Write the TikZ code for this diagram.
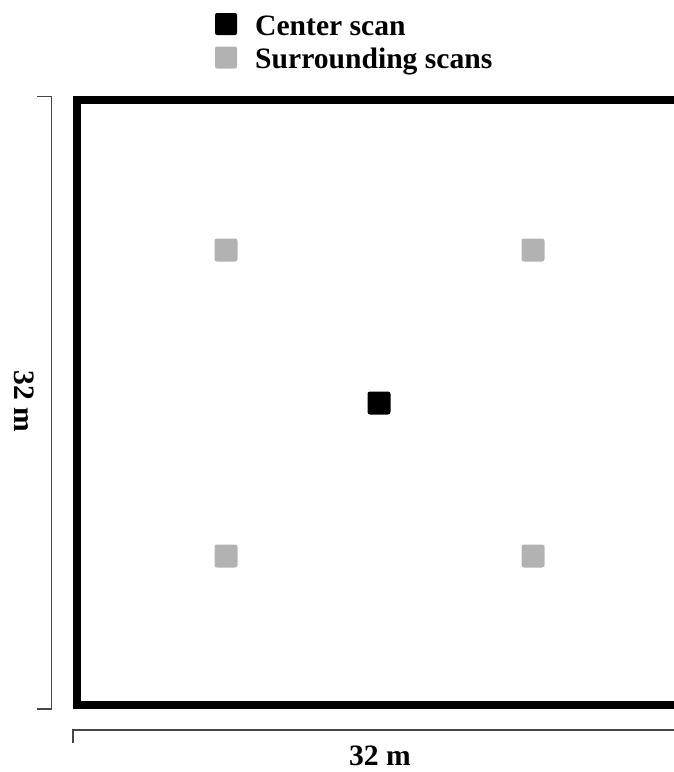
\documentclass[tikz,border=0pt]{standalone}
\usepackage{fontspec}
\setmainfont{Liberation Serif}
\definecolor{scangray}{RGB}{178,178,178}
\definecolor{dimgray}{RGB}{70,70,70}
\begin{document}
\begin{tikzpicture}[x=1pt,y=-1pt,
  scan/.style={rectangle,minimum size=23pt,inner sep=0pt,rounded corners=2.5pt},
  centerscan/.style={scan,fill=black},
  sidescan/.style={scan,fill=scangray},
  legbox/.style={rectangle,minimum size=22pt,inner sep=0pt,rounded corners=2pt},
  lbl/.style={inner sep=0pt,font=\fontsize{29.6}{32}\selectfont\bfseries},
  dimline/.style={draw=dimgray,line width=1.2pt},
  area/.style={draw=black,line width=8pt}]
\useasboundingbox (0,0) rectangle (673,772);
% legend
\node[legbox,fill=black] (lc) at (226,24) {};
\node[legbox,fill=scangray] (ls) at (226,57.5) {};
\node[lbl,anchor=base west] (tc) at (255,35) {Center scan};
\node[lbl,anchor=base west] (ts) at (255,68) {Surrounding scans};
% area
\coordinate (tl) at (76.5,100);
\coordinate (bl) at (76.5,704.5);
\coordinate (tr) at (690,100);
\coordinate (br) at (690,704.5);
\draw[area] (tr) -- (tl) -- (bl) -- (br);
% scans
\node[centerscan] (c) at (379,403) {};
\node[sidescan] (s1) at (226,250) {};
\node[sidescan] (s2) at (533,250) {};
\node[sidescan] (s3) at (226,556) {};
\node[sidescan] (s4) at (533,556) {};
% left dimension
\coordinate (v1) at (37,96.5);
\coordinate (v2) at (51.7,96.5);
\coordinate (v3) at (51.7,709);
\coordinate (v4) at (37,709);
\draw[dimline] (v1) -- (v2) -- (v3) -- (v4);
\node[lbl,rotate=-90,anchor=base] (lv) at (15,401.5) {32 m};
% bottom dimension
\coordinate (h1) at (73,743);
\coordinate (h2) at (73,730);
\coordinate (h3) at (690,730);
\draw[dimline] (h1) -- (h2) -- (h3);
\node[lbl,anchor=base] (lh) at (380,765) {32 m};
\end{tikzpicture}
\end{document}
